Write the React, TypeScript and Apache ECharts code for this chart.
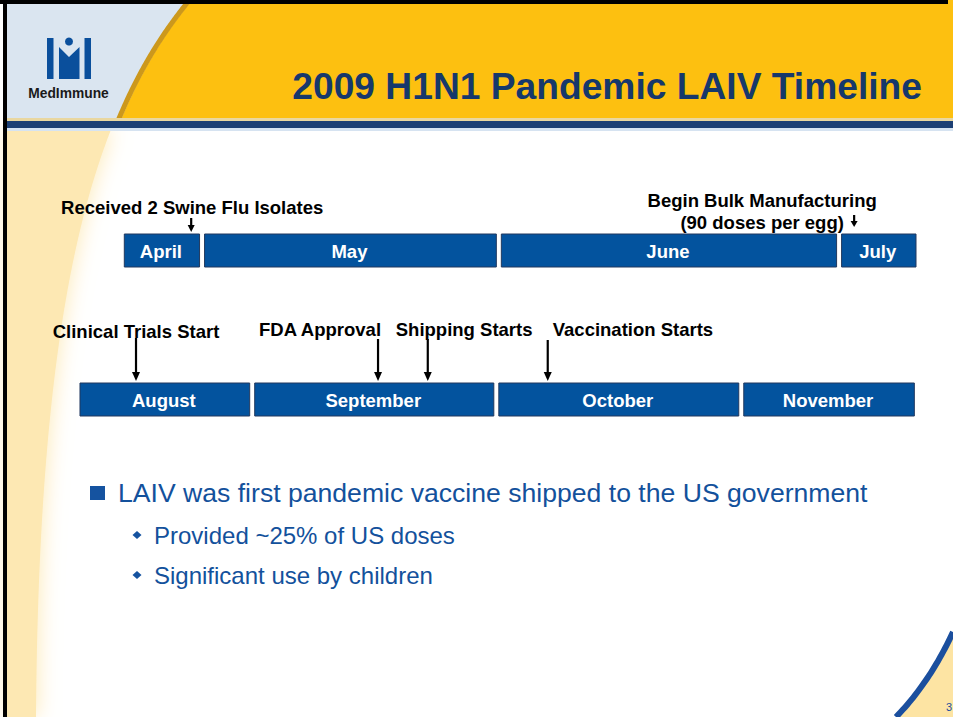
import React, { useEffect, useRef } from "react";
import * as echarts from "echarts";

// ---------- data ----------
const title = "2009 H1N1 Pandemic LAIV Timeline";

const row1Months = ["April", "May", "June", "July"];
const row1Start = [5.0, 14.6, 50.1, 90.8];
const row1End = [14.6, 50.1, 90.8, 100.3];

const row2Months = ["August", "September", "October", "November"];
const row2Start = [-0.3, 20.6, 49.8, 79.1];
const row2End = [20.6, 49.8, 79.1, 100.1];

const row1Events = ["Received 2 Swine Flu Isolates", "Begin Bulk Manufacturing\n(90 doses per egg)"];
const row1EventAt = [13.3, 92.6];

const row2Events = ["Clinical Trials Start", "FDA Approval", "Shipping Starts", "Vaccination Starts"];
const row2EventAt = [6.7, 35.65, 41.6, 55.95];

const bulletMain = "LAIV was first pandemic vaccine shipped to the US government";
const bulletSubs = ["Provided ~25% of US doses", "Significant use by children"];

// ---------- layout / style (not data) ----------
const FONT = "'Liberation Sans', Arial, Helvetica, sans-serif";
const BAR_FILL = "#03539e";
const BAR_STROKE = "#22395e";

const row1Layout = [
  { align: "center", dx: 1, dy: -27, top: -16, bottom: -2, head: 7, hw: 3.5 },
  { align: "center", dx: -92, dy: -22.5, top: -19, bottom: -7, head: 6, hw: 3.5 },
];
const row2Layout = [
  { align: "center", dx: 0, dy: -52, top: -45, bottom: -2, head: 9, hw: 4 },
  { align: "right", dx: 3, dy: -54, top: -44, bottom: -2, head: 9, hw: 4 },
  { align: "left", dx: -32, dy: -54, top: -44, bottom: -2, head: 9, hw: 4 },
  { align: "left", dx: 5, dy: -54, top: -43, bottom: -2, head: 9, hw: 4 },
];

// decorative curve sampler
function cubic(p0: number[], p1: number[], p2: number[], p3: number[], n: number) {
  const pts: number[][] = [];
  for (let i = 0; i <= n; i++) {
    const t = i / n;
    const u = 1 - t;
    pts.push([
      u * u * u * p0[0] + 3 * u * u * t * p1[0] + 3 * u * t * t * p2[0] + t * t * t * p3[0],
      u * u * u * p0[1] + 3 * u * u * t * p1[1] + 3 * u * t * t * p2[1] + t * t * t * p3[1],
    ]);
  }
  return pts;
}
function quad(p0: number[], p1: number[], p2: number[], n: number) {
  const pts: number[][] = [];
  for (let i = 0; i <= n; i++) {
    const t = i / n;
    const u = 1 - t;
    pts.push([
      u * u * p0[0] + 2 * u * t * p1[0] + t * t * p2[0],
      u * u * p0[1] + 2 * u * t * p1[1] + t * t * p2[1],
    ]);
  }
  return pts;
}

const bigCurve = cubic([192, 0], [110, 100], [45, 260], [42, 717], 240);
const headerCurve = bigCurve.filter((p) => p[1] <= 122);
const bodyCurve = bigCurve.filter((p) => p[1] >= 128);
const cornerCurve = quad([896, 717], [930, 682], [953, 632], 30);

function monthSeries(months: string[], starts: number[], ends: number[], idx: number) {
  return {
    type: "custom",
    xAxisIndex: idx,
    yAxisIndex: idx,
    clip: false,
    encode: { x: [0, 1], y: 2 },
    data: months.map((m, i) => [starts[i], ends[i], 0, m]),
    renderItem: (params: any, api: any) => {
      const s = api.value(0);
      const e = api.value(1);
      const name = months[params.dataIndex];
      const p0 = api.coord([s, 0]);
      const p1 = api.coord([e, 0]);
      const h = api.size([0, 1])[1];
      return {
        type: "group",
        children: [
          {
            type: "rect",
            shape: { x: p0[0] + 2.5, y: p0[1] - h / 2, width: p1[0] - p0[0] - 5, height: h },
            style: { fill: BAR_FILL, stroke: BAR_STROKE, lineWidth: 1 },
          },
          {
            type: "text",
            x: (p0[0] + p1[0]) / 2 - 1,
            y: p0[1] + 1,
            style: {
              text: name,
              fill: "#ffffff",
              fontSize: 18.5,
              fontWeight: "bold",
              fontFamily: FONT,
              align: "center",
              verticalAlign: "middle",
            },
          },
        ],
      };
    },
  };
}

function eventSeries(names: string[], at: number[], layout: any[], idx: number) {
  return {
    type: "custom",
    xAxisIndex: idx,
    yAxisIndex: idx,
    clip: false,
    encode: { x: 0, y: 1 },
    data: names.map((n, i) => [at[i], 0, n]),
    renderItem: (params: any, api: any) => {
      const i = params.dataIndex;
      const L = layout[i];
      const c = api.coord([api.value(0), 0]);
      const h = api.size([0, 1])[1];
      const x = c[0];
      const barTop = c[1] - h / 2;
      const yTop = barTop + L.top;
      const yTip = barTop + L.bottom;
      return {
        type: "group",
        children: [
          {
            type: "line",
            shape: { x1: x, y1: yTop, x2: x, y2: yTip - L.head + 1 },
            style: { stroke: "#000", lineWidth: 2.2 },
          },
          {
            type: "polygon",
            shape: { points: [[x - L.hw, yTip - L.head], [x + L.hw, yTip - L.head], [x, yTip]] },
            style: { fill: "#000" },
          },
          {
            type: "text",
            x: x + L.dx,
            y: barTop + L.dy,
            style: {
              text: names[i],
              fill: "#000",
              fontSize: 18.5,
              fontWeight: "bold",
              fontFamily: FONT,
              align: L.align,
              verticalAlign: "middle",
              lineHeight: 22.5,
            },
          },
        ],
      };
    },
  };
}

const graphics: any[] = [
  // body background
  { type: "rect", z: 0, shape: { x: 0, y: 0, width: 953, height: 717 }, style: { fill: "#ffffff" } },
  // cream left band in body
  {
    type: "polygon",
    z: 1,
    shape: { points: [...bodyCurve.map((p) => [p[0] - 6, p[1]]), [7, 717], [7, 128]] },
    style: { fill: "#fde8b3", shadowBlur: 22, shadowColor: "rgba(253,232,179,1)" },
  },
  // header light blue
  { type: "rect", z: 2, shape: { x: 7, y: 4, width: 946, height: 118 }, style: { fill: "#dae5f0" } },
  // header yellow
  {
    type: "polygon",
    z: 3,
    shape: { points: [...headerCurve, [953, 122], [953, 0]] },
    style: { fill: "#fdc010" },
  },
  // gold edge
  {
    type: "polyline",
    z: 4,
    shape: { points: headerCurve.map((p) => [p[0] - 2.5, p[1]]) },
    style: { stroke: "#cc981c", lineWidth: 5, fill: "none" },
  },
  // header bottom bands
  { type: "rect", z: 5, shape: { x: 7, y: 118, width: 946, height: 3 }, style: { fill: "#e9d7a0" } },
  { type: "rect", z: 5, shape: { x: 7, y: 121, width: 946, height: 7 }, style: { fill: "#1c3f74" } },
  { type: "rect", z: 5, shape: { x: 7, y: 128, width: 946, height: 3 }, style: { fill: "#d6e3f1" } },
  // bottom right corner
  {
    type: "polygon",
    z: 5,
    shape: { points: [...cornerCurve, [953, 717]] },
    style: { fill: "#fde4a3" },
  },
  {
    type: "polyline",
    z: 6,
    shape: { points: cornerCurve },
    style: { stroke: "#1b4f9e", lineWidth: 6, fill: "none" },
  },
  {
    type: "text",
    z: 7,
    x: 946,
    y: 707,
    style: { text: "3", fill: "#1b4f9e", fontSize: 11, fontFamily: FONT, align: "left", verticalAlign: "middle" },
  },
  // black frame
  { type: "rect", z: 8, shape: { x: 0, y: 0, width: 948, height: 4 }, style: { fill: "#000" } },
  { type: "rect", z: 8, shape: { x: 3, y: 0, width: 4, height: 717 }, style: { fill: "#000" } },
  // logo
  { type: "rect", z: 9, shape: { x: 47, y: 38, width: 6.5, height: 41 }, style: { fill: "#0a4f9c" } },
  { type: "rect", z: 9, shape: { x: 84.5, y: 38, width: 6.5, height: 41 }, style: { fill: "#0a4f9c" } },
  {
    type: "polygon",
    z: 9,
    shape: { points: [[59, 47], [69, 57], [79.5, 47], [79.5, 79], [59, 79]] },
    style: { fill: "#0a4f9c" },
  },
  { type: "circle", z: 9, shape: { cx: 69, cy: 41.5, r: 4 }, style: { fill: "#0a4f9c" } },
  {
    type: "text",
    z: 9,
    x: 68.5,
    y: 93,
    style: {
      text: "MedImmune",
      fill: "#1a1a1a",
      fontSize: 13.8,
      fontWeight: "bold",
      fontFamily: FONT,
      align: "center",
      verticalAlign: "middle",
    },
  },
  // title
  {
    type: "text",
    z: 9,
    x: 922,
    y: 86,
    style: {
      text: title,
      fill: "#16386b",
      fontSize: 37.2,
      fontWeight: "bold",
      fontFamily: FONT,
      align: "right",
      verticalAlign: "middle",
    },
  },
  // bullets
  { type: "rect", z: 9, shape: { x: 90, y: 486, width: 15, height: 14 }, style: { fill: "#1553a0" } },
  {
    type: "text",
    z: 9,
    x: 118,
    y: 493,
    style: { text: bulletMain, fill: "#13519c", fontSize: 26.6, fontFamily: FONT, align: "left", verticalAlign: "middle" },
  },
  ...bulletSubs.flatMap((t, i) => {
    const cy = 535 + i * 40;
    return [
      {
        type: "polygon",
        z: 9,
        shape: { points: [[137, cy - 4], [141.5, cy], [137, cy + 4], [132.5, cy]] },
        style: { fill: "#1553a0" },
      },
      {
        type: "text",
        z: 9,
        x: 154,
        y: cy,
        style: { text: t, fill: "#13519c", fontSize: 24, fontFamily: FONT, align: "left", verticalAlign: "middle" },
      },
    ];
  }),
];

const option: any = {
  animation: false,
  backgroundColor: "#ffffff",
  graphic: { elements: graphics },
  grid: [
    { left: 80, right: 37, top: 234, height: 33, containLabel: false, z: 20 },
    { left: 80, right: 37, top: 383, height: 33, containLabel: false, z: 20 },
  ],
  xAxis: [
    { type: "value", gridIndex: 0, min: 0, max: 100, show: false },
    { type: "value", gridIndex: 1, min: 0, max: 100, show: false },
  ],
  yAxis: [
    { type: "category", gridIndex: 0, data: ["row1"], show: false },
    { type: "category", gridIndex: 1, data: ["row2"], show: false },
  ],
  series: [
    { ...monthSeries(row1Months, row1Start, row1End, 0), z: 20 },
    { ...monthSeries(row2Months, row2Start, row2End, 1), z: 20 },
    { ...eventSeries(row1Events, row1EventAt, row1Layout, 0), z: 21 },
    { ...eventSeries(row2Events, row2EventAt, row2Layout, 1), z: 21 },
  ],
};

export default function App() {
  const ref = useRef<HTMLDivElement>(null);
  useEffect(() => {
    document.body.style.margin = "0";
    const chart = echarts.init(ref.current!, null, { renderer: "svg" });
    chart.setOption(option);
    return () => chart.dispose();
  }, []);
  return <div ref={ref} style={{ width: 953, height: 717 }} />;
}
